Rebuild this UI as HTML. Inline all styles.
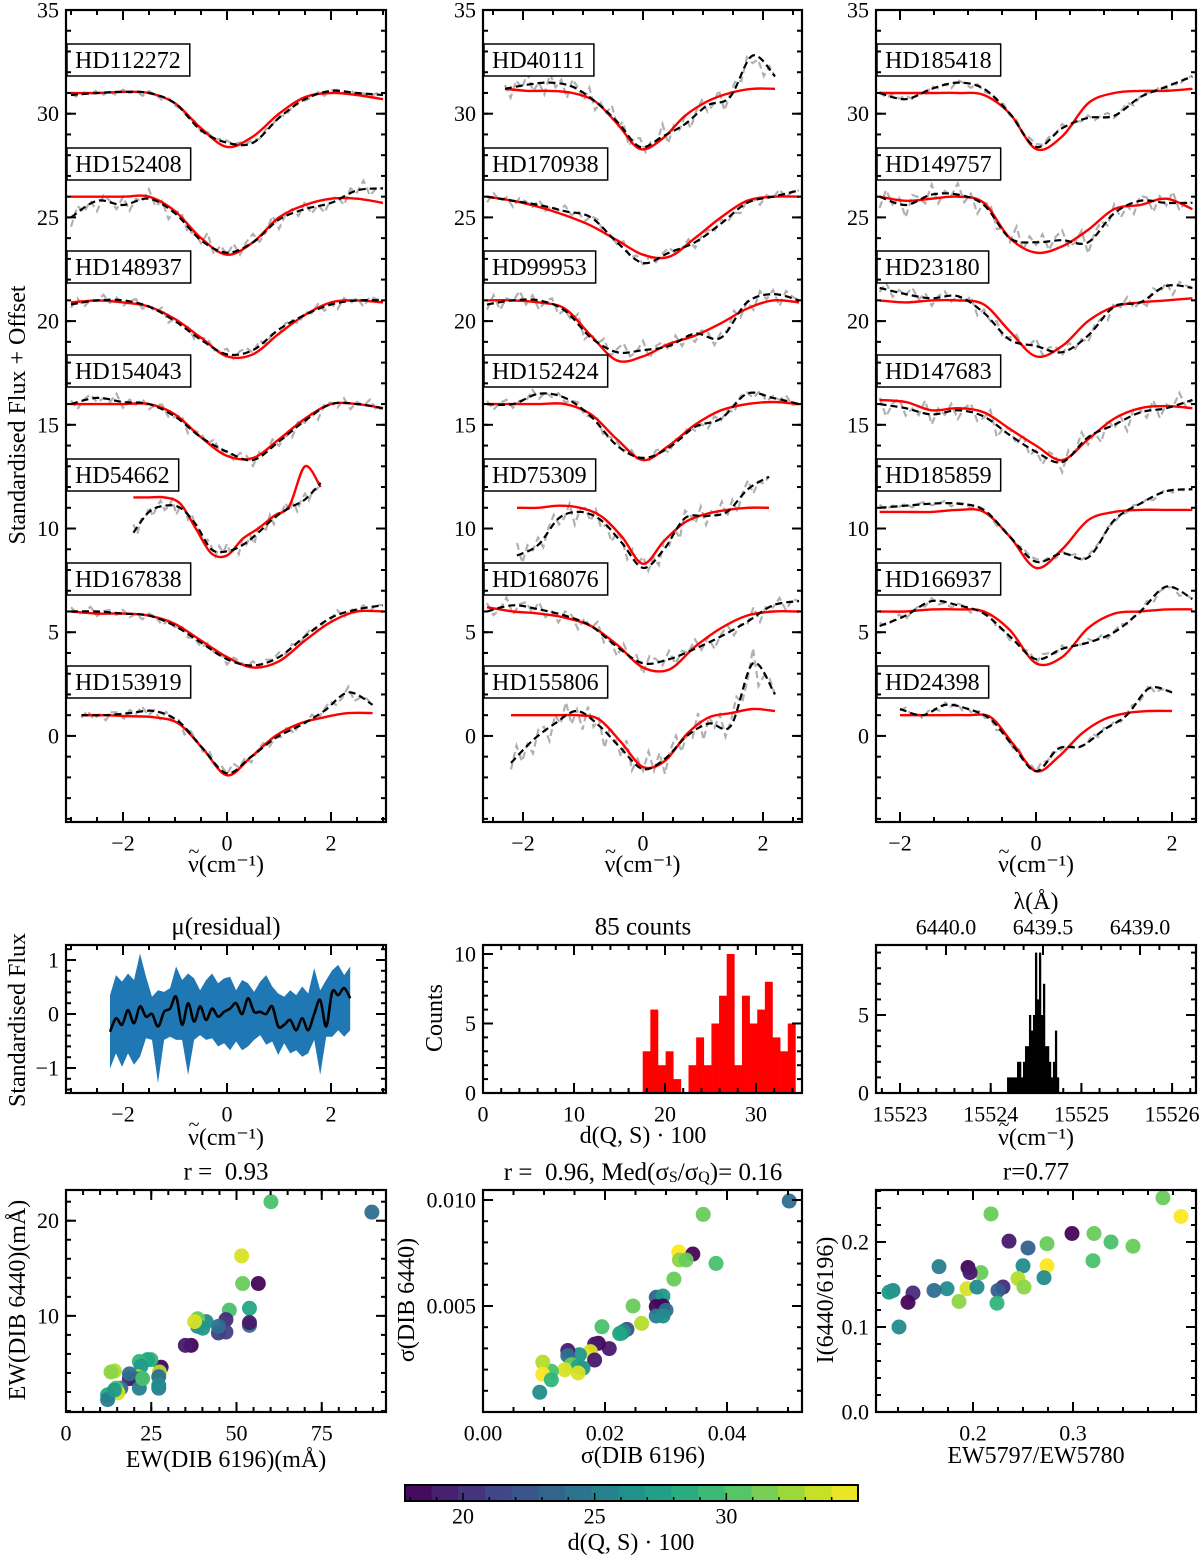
<!DOCTYPE html>
<html><head><meta charset="utf-8">
<style>
html,body{margin:0;padding:0;background:#fff;}
svg{display:block;font-family:"Liberation Serif","DejaVu Serif",serif;}
</style></head>
<body>
<svg id="fig" width="1200" height="1558" viewBox="0 0 1200 1558" xmlns="http://www.w3.org/2000/svg"></svg>
<script>
// ---------------- DATA ----------------
const p1Names=["HD112272","HD152408","HD148937","HD154043","HD54662","HD167838","HD153919"];
const p1Range=[[-3,3],[-3,3],[-3,3],[-3,3],[-1.8,1.8],[-3,3],[-2.8,2.8]];
const p1Red=[
[31,31,31.05,31,30.5,29.3,28.4,28.9,30,30.8,31,30.9,30.7],
[26,26,26,26,25.3,24,23.2,23.8,25,25.6,25.9,25.9,25.7],
[20.9,21,20.9,20.7,20.1,19.2,18.3,18.4,19.4,20.3,20.9,21,20.9],
[16,16,16,16,15.5,14.4,13.5,13.4,14.3,15.3,16,16,15.8],
[11.5,11.5,11.5,11.2,10,8.8,8.7,9.5,10,10.6,11.1,13,12],
[6,5.9,5.9,5.8,5.4,4.6,3.8,3.3,3.6,4.6,5.5,6,6],
[1,1,0.95,0.9,0.6,-0.6,-1.9,-1,0,0.6,0.9,1.1,1.1]];
const p1Black=[
[30.9,31,31.05,31,30.5,29.2,28.6,28.6,29.8,30.7,31.1,31,30.9],
[25,25.8,25.6,25.9,25.2,23.9,23.3,23.8,24.9,25.4,25.7,26.3,26.4],
[20.8,21,21,20.7,20,19.1,18.4,18.6,19.6,20.3,20.8,21,21],
[16,16.3,16.1,16,15.4,14.4,13.7,13.3,14.2,15.2,16,16,15.8],
[9.8,10.8,11.1,11,10.2,9,8.9,9.2,9.8,10.5,11,11.4,12.2],
[6,6,5.9,5.8,5.3,4.5,3.7,3.4,3.8,4.8,5.7,6.1,6.3],
[1,1,1.1,1.2,0.7,-0.6,-1.8,-1,-0.1,0.5,1.2,2.1,1.5]];
const p1Noise=[0.15,0.5,0.3,0.35,0.4,0.25,0.3];
const p2Names=["HD40111","HD170938","HD99953","HD152424","HD75309","HD168076","HD155806"];
const p2Range=[[-2.3,2.2],[-2.6,2.6],[-2.6,2.6],[-2.6,2.6],[-2.1,2.1],[-2.6,2.6],[-2.2,2.2]];
const p2Red=[
[31.2,31.1,31.1,31,30.6,29.5,28.3,28.8,29.9,30.6,31,31.2,31.2],
[26,25.8,25.5,25.1,24.6,23.9,23.2,23.1,24,25,25.8,26,26],
[21,21,20.9,20.6,19.3,18.1,18.3,18.9,19.3,19.9,20.6,21,20.9],
[16,16,16,16,15.5,14.3,13.3,14,15,15.7,16,16.1,16],
[11,11,11.1,11,10.6,9.6,8.3,9.4,10.3,10.7,10.9,11,11],
[6.2,6,5.9,5.7,5.3,4.4,3.3,3.2,4.3,5.2,5.8,6,6],
[1,1,1,1,0.8,-0.3,-1.5,-1.2,0.1,0.9,1.1,1.3,1.2]];
const p2Black=[
[31.2,31.4,31.5,31.3,30.6,29.6,28.4,28.9,29.5,30.4,30.8,32.8,31.8],
[26,25.8,25.6,25.3,25,23.8,22.8,23.3,23.8,24.7,25.7,26,26.3],
[20.8,21,21,20.5,19.2,18.5,18.6,18.8,19.4,19.2,20.9,21.3,21],
[16,16,16.5,16.3,15.4,14,13.4,13.9,14.9,15.3,16.5,16.3,16],
[8.7,9.2,10.5,10.8,10.4,9.3,8.1,9,10.5,10.6,10.8,11.9,12.5],
[6,6.3,6.1,5.8,5.3,4.3,3.5,3.7,4.2,4.8,5.5,6.3,6.5],
[-1.3,-0.2,0.6,1.2,0.5,-0.6,-1.6,-1.1,0,0.6,0.5,3.5,2]];
const p2Noise=[0.6,0.3,0.5,0.3,0.6,0.5,0.8];
const p3Names=["HD185418","HD149757","HD23180","HD147683","HD185859","HD166937","HD24398"];
const p3Range=[[-2.3,2.3],[-2.3,2.3],[-2.3,2.3],[-2.3,2.3],[-2.3,2.3],[-2.3,2.3],[-2,2]];
const p3Red=[
[31,31,31,31,30.9,30,28.3,28.9,30.5,31,31.1,31.1,31.2],
[26,25.8,25.9,26,25.7,24,23.3,23.6,24.4,25.4,25.6,25.9,25.4],
[21,20.9,21,21,20.8,19.5,18.3,18.8,20,20.7,20.9,21,21.1],
[16.2,16.1,15.7,15.8,15.6,14.8,14,13.3,14.3,15.3,15.8,15.9,15.8],
[10.8,10.8,10.8,10.9,10.8,9.6,8.1,9,10.4,10.8,10.9,10.9,10.9],
[6,6,6.1,6.1,6,5.1,3.5,3.8,5.2,5.9,6,6.1,6.1],
[1,1,1,1,0.9,-0.4,-1.7,-1,0.1,0.8,1.1,1.2,1.2]];
const p3Black=[
[31,30.7,31.2,31.5,31.2,30,28.4,29.3,29.8,29.9,30.8,31.3,31.8],
[26,25.6,26.1,26.1,25.6,24,23.8,23.9,23.8,25.2,25.8,25.7,25.7],
[21.6,21.3,21.1,21.2,20.4,19.1,18.8,18.5,19.3,20.7,20.9,21.7,21.6],
[16,15.8,15.5,15.7,15.4,14.5,13.7,13.2,14.4,15,15.6,15.8,16.2],
[11,11.1,11.2,11.2,10.9,9.6,8.4,8.8,8.6,10.4,11.2,11.8,11.9],
[5.3,5.8,6.5,6.3,5.9,4.8,3.7,4.2,4.5,5,6,7.2,6.6],
[1.3,1,1.5,1.3,0.8,-0.5,-1.7,-0.6,-0.5,0.3,1,2.3,2.1]];
const p3Noise=[0.2,0.6,0.4,0.6,0.15,0.2,0.2];
const jitter=[0.3,-0.8,0.5,-0.2,0.9,-0.6,0.1,-0.9,0.7,-0.3,0.4,-1,0.6,0.2,-0.5,0.8,-0.7,0.3,-0.1,0.9,-0.4,0.5,-0.9,0.2,0.7,-0.6,0.1,-0.3,1,-0.8,0.4,-0.2,0.6,-0.7,0.3,0.8,-0.5,-0.1,0.9,-0.9,0.2,0.5,-0.4,0.7,-0.6,0.1,-0.8,0.4];
const resX=[-2.25,2.37];
const resMean=[-0.33,-0.08,-0.2,0.07,-0.17,0.14,-0.05,0,-0.23,0.04,0.1,0.32,-0.2,0.2,-0.14,0.14,-0.11,0.1,-0.05,0.04,0.1,0.2,0,0.29,0.04,0.04,0,0.14,-0.23,-0.2,-0.11,-0.3,-0.08,-0.3,0,0.26,-0.23,0.41,0.35,0.48,0.29];
const resUpper=[0.35,0.72,0.6,0.75,0.63,1.12,0.69,0.32,0.44,0.41,0.48,0.88,0.63,0.75,0.66,0.44,0.63,0.75,0.57,0.66,0.69,0.44,0.63,0.57,0.41,0.6,0.72,0.51,0.38,0.32,0.44,0.35,0.51,0.38,0.85,0.44,0.63,0.81,0.91,0.72,0.88];
const resLower=[-1.01,-0.73,-0.98,-0.73,-0.94,-0.79,-0.45,-0.48,-1.28,-0.48,-0.42,-0.48,-0.48,-1.13,-0.48,-0.39,-0.48,-0.45,-0.6,-0.54,-0.67,-0.51,-0.67,-0.6,-0.48,-0.39,-0.57,-0.51,-0.76,-0.54,-0.73,-0.67,-0.79,-0.73,-0.48,-1.13,-0.42,-0.42,-0.3,-0.42,-0.3];
const hist5Start=17.55, hist5Width=0.839;
const hist5Counts=[3,6,2,3,1,0,2,4,2,5,7,10,2,7,5,6,8,4,3,5];
const hist6Start=15524.18, hist6Width=0.022;
const hist6Counts=[1,1,1,1,1,2,2,1,2,3,3,5,4,5,9,6,9,5,7,3,3,2,1,2,4,1];
const s7x=[60.1,89.7,51.5,51.8,56.4,53.8,53.8,53.8,47.9,46.9,46.9,44.7,44.7,41.1,38.6,38.6,40.1,37.7,36.7,35.0,27.9,27.4,27.2,27.2,27.2,24.9,23.9,21.5,22.0,21.0,20.5,22.0,18.6,18.6,21.5,22.5,14.2,13.2,16.1,14.7,15.2,12.2,12.2,14.2];
const s7y=[22.0,20.9,16.3,13.4,13.4,10.8,9.0,9.3,10.6,9.6,8.3,8.2,8.9,9.4,9.7,8.9,8.7,9.4,6.9,6.9,4.6,4.1,3.6,2.4,2.7,5.4,5.4,5.2,4.7,3.6,3.4,3.4,3.4,3.9,2.4,3.4,4.2,4.1,2.4,2.4,1.9,1.7,1.2,2.2];
const s7c=[30,24,34,31,18,28,24,19,30,20,21,21,24,26,31,26,27,34,18,19,18,33,24,25,26,29,28,29,27,33,28,25,19,24,25,30,33,32,24,30,34,28,25,27];
const s8x=[0.0502,0.0361,0.0321,0.0344,0.0322,0.0333,0.0382,0.0313,0.0284,0.0295,0.0284,0.0295,0.0300,0.0284,0.0295,0.0246,0.0260,0.0236,0.0227,0.0230,0.0224,0.0195,0.0207,0.0189,0.0183,0.0176,0.0183,0.0158,0.0139,0.0139,0.0145,0.0156,0.0164,0.0156,0.0134,0.0112,0.0098,0.0098,0.0112,0.0093];
const s8y=[0.00995,0.00932,0.00755,0.00745,0.00717,0.00717,0.00701,0.00627,0.00541,0.00547,0.00497,0.00500,0.00480,0.00453,0.00453,0.00500,0.00418,0.00390,0.00371,0.00380,0.00370,0.00402,0.00299,0.00324,0.00320,0.00285,0.00245,0.00270,0.00290,0.00266,0.00223,0.00215,0.00207,0.00184,0.00199,0.00192,0.00235,0.00178,0.00152,0.00093];
const s8c=[24,31,35,18,32,31,30,31,23,27,18,18,24,25,26,31,33,22,29,26,28,30,19,18,19,34,19,27,19,24,31,28,27,34,34,30,33,35,29,26];
const s9x=[0.390,0.408,0.218,0.299,0.321,0.338,0.360,0.320,0.274,0.236,0.255,0.274,0.250,0.271,0.245,0.251,0.230,0.225,0.224,0.208,0.195,0.197,0.194,0.204,0.186,0.174,0.161,0.166,0.140,0.135,0.120,0.116,0.126];
const s9y=[0.252,0.230,0.233,0.210,0.210,0.200,0.195,0.178,0.198,0.201,0.193,0.172,0.172,0.158,0.157,0.147,0.147,0.143,0.128,0.164,0.170,0.164,0.145,0.147,0.130,0.145,0.143,0.171,0.140,0.129,0.143,0.141,0.100];
const s9c=[31,35,31,18,31,30,31,30,31,19,23,35,26,26,33,32,20,23,29,31,18,19,34,26,32,26,24,25,20,18,26,27,26];
const cbarTicks=[20,25,30];

// ---------------- HELPERS ----------------
const NS='http://www.w3.org/2000/svg';
const svg=document.getElementById('fig');
const TICK=22, TITLE=25, LABEL=24;
function el(tag,attrs,parent){const e=document.createElementNS(NS,tag);for(const k in attrs)e.setAttribute(k,attrs[k]);(parent||svg).appendChild(e);return e;}
function txt(s,x,y,size,anchor,parent,extra){const t=el('text',Object.assign({x:x,y:y,'font-size':size,'text-anchor':anchor||'middle','dominant-baseline':'central',fill:'#000'},extra||{}),parent);t.textContent=s;return t;}
function nuLabel(cx,cy,parent){
  const g=el('g',{},parent);
  
  
  const t=txt('\u03BD(cm\u207B\u00B9)',cx,cy,LABEL,'middle',g);
  const w=t.getComputedTextLength?t.getComputedTextLength():80;
  const x0=cx-w/2+6;
  txt('~',x0,cy-13,20,'middle',g);
  return g;
}
function fmtNum(v,d){const s=Math.abs(v).toFixed(d);return (v<-1e-12?'\u2212':'')+s;}
const VIR=['#440154','#482475','#414487','#355f8d','#2a788e','#21918c','#22a884','#44bf70','#7ad151','#bddf26','#fde725'];
function hex(h){return [parseInt(h.substr(1,2),16),parseInt(h.substr(3,2),16),parseInt(h.substr(5,2),16)];}
function viridis(t){t=Math.max(0,Math.min(1,t));const f=t*10,i=Math.min(9,Math.floor(f)),r=f-i;const a=hex(VIR[i]),b=hex(VIR[i+1]);return 'rgb('+a.map((v,k)=>Math.round(v+(b[k]-v)*r)).join(',')+')';}
const CMIN=17.8,CMAX=35;
function smooth(pts){let d='M'+pts[0][0].toFixed(1)+','+pts[0][1].toFixed(1);for(let i=0;i<pts.length-1;i++){const p0=pts[i-1]||pts[i],p1=pts[i],p2=pts[i+1],p3=pts[i+2]||p2;const c1=[p1[0]+(p2[0]-p0[0])/6,p1[1]+(p2[1]-p0[1])/6],c2=[p2[0]-(p3[0]-p1[0])/6,p2[1]-(p3[1]-p1[1])/6];d+='C'+c1[0].toFixed(1)+','+c1[1].toFixed(1)+' '+c2[0].toFixed(1)+','+c2[1].toFixed(1)+' '+p2[0].toFixed(1)+','+p2[1].toFixed(1);}return d;}
function ticksRange(a,b,step){const out=[];const s=Math.ceil(a/step-1e-9);for(let k=s;k*step<=b+1e-9;k++)out.push(+(k*step).toFixed(10));return out;}

function makeAxes(o,name){
  const g=el('g',{});
  
  
  o.sx=v=>o.L+(v-o.xmin)/(o.xmax-o.xmin)*(o.R-o.L);
  o.sy=v=>o.B-(v-o.ymin)/(o.ymax-o.ymin)*(o.B-o.T);
  o.g=g;
  return o;
}
function finishAxes(o){
  const g=o.g;
  const tg=el('g',{stroke:'#000','stroke-width':2},g);
  ticksRange(o.xmin,o.xmax,o.xminor).forEach(v=>{const x=o.sx(v);el('line',{x1:x,x2:x,y1:o.B,y2:o.B-5},tg);if(!o.noTopX)el('line',{x1:x,x2:x,y1:o.T,y2:o.T+5},tg);});
  o.xmajor.forEach(v=>{const x=o.sx(v);el('line',{x1:x,x2:x,y1:o.B,y2:o.B-10},tg);if(!o.noTopX)el('line',{x1:x,x2:x,y1:o.T,y2:o.T+10},tg);});
  ticksRange(o.ymin,o.ymax,o.yminor).forEach(v=>{const y=o.sy(v);el('line',{x1:o.L,x2:o.L+5,y1:y,y2:y},tg);el('line',{x1:o.R,x2:o.R-5,y1:y,y2:y},tg);});
  o.ymajor.forEach(v=>{const y=o.sy(v);el('line',{x1:o.L,x2:o.L+10,y1:y,y2:y},tg);el('line',{x1:o.R,x2:o.R-10,y1:y,y2:y},tg);});
  const fr=el('rect',{x:o.L,y:o.T,width:o.R-o.L,height:o.B-o.T,fill:'none',stroke:'#000','stroke-width':2.2},g);
  
  
  o.xmajor.forEach(v=>{const t=txt(fmtNum(v,o.xdec||0),o.sx(v),o.B+21,TICK,'middle',g);});
  o.ymajor.forEach(v=>{const t=txt(fmtNum(v,o.ydec||0),o.L-7,o.sy(v),TICK,'end',g);});
}

// ---------------- TOP SPECTRA PANELS ----------------
const topBoxTop=[44,148,251,355,459,563,666];
function spectraPanel(L,R,xmin,xmax,names,ranges,reds,blacks,noise,pname){
  const o=makeAxes({L:L,R:R,T:10,B:822,xmin:xmin,xmax:xmax,ymin:-4.15,ymax:35,xmajor:[-2,0,2],xminor:0.5,ymajor:[0,5,10,15,20,25,30,35],yminor:1},pname);
  const clip=el('clipPath',{id:'clip-'+pname},o.g);el('rect',{x:L,y:10,width:R-L,height:812},clip);
  const dg=el('g',{'clip-path':'url(#clip-'+pname+')'},o.g);
  names.forEach((nm,i)=>{
    const [a,b]=ranges[i];const n=reds[i].length;const xs=reds[i].map((_,k)=>a+(b-a)*k/(n-1));
    const bl=blacks[i];const gp=[];let j=i*7;
    for(let k=0;k<n-1;k++){for(let s=0;s<4;s++){const x=xs[k]+(xs[k+1]-xs[k])*s/4;const y=bl[k]+(bl[k+1]-bl[k])*s/4+noise[i]*jitter[(j++)%jitter.length];gp.push([o.sx(x),o.sy(y)]);}}
    gp.push([o.sx(xs[n-1]),o.sy(bl[n-1])]);
    const gl=el('path',{d:'M'+gp.map(p=>p[0].toFixed(1)+','+p[1].toFixed(1)).join('L'),fill:'none',stroke:'#b0b0b0','stroke-width':2.2,'stroke-dasharray':'7,4'},dg);
    
    
    const rl=el('path',{d:smooth(xs.map((x,k)=>[o.sx(x),o.sy(reds[i][k])])),fill:'none',stroke:'#ff0000','stroke-width':2.4},dg);
    
    
    const kl=el('path',{d:smooth(xs.map((x,k)=>[o.sx(x),o.sy(bl[k])])),fill:'none',stroke:'#000','stroke-width':2.2,'stroke-dasharray':'7,4'},dg);
    
    
    const bx=el('g',{},o.g);
    
    
    const r=el('rect',{x:L+1,y:topBoxTop[i],width:10,height:32,fill:'#fff',stroke:'#000','stroke-width':1.5},bx);
    const t=txt(nm,L+9,topBoxTop[i]+17,LABEL,'start',bx);
    r.setAttribute('width',t.getComputedTextLength()+17);
  });
  finishAxes(o);
  nuLabel((L+R)/2,865,o.g);
}
spectraPanel(66,386,-161/52,159/52,p1Names,p1Range,p1Red,p1Black,p1Noise,'spectra-panel-1');
spectraPanel(483,802,-160/60,159/60,p2Names,p2Range,p2Red,p2Black,p2Noise,'spectra-panel-2');
spectraPanel(876,1196,-160/68,160/68,p3Names,p3Range,p3Red,p3Black,p3Noise,'spectra-panel-3');
{const t=txt('Standardised Flux + Offset',18,415,LABEL,'middle',svg,{transform:'rotate(-90 18 415)'});}

// ---------------- PANEL 4 ----------------
{
  const o=makeAxes({L:66,R:386,T:945,B:1093,xmin:-161/52,xmax:159/52,ymin:-79/54,ymax:69/54,xmajor:[-2,0,2],xminor:0.5,ymajor:[-1,0,1],yminor:0.2},'residual-panel');
  const n=resMean.length;const xs=resMean.map((_,k)=>resX[0]+(resX[1]-resX[0])*k/(n-1));
  const up=xs.map((x,k)=>o.sx(x).toFixed(1)+','+o.sy(resUpper[k]).toFixed(1));
  const lo=xs.map((x,k)=>o.sx(x).toFixed(1)+','+o.sy(resLower[k]).toFixed(1)).reverse();
  const band=el('polygon',{points:up.concat(lo).join(' '),fill:'#1f77b4'},o.g);
  
  
  const ml=el('path',{d:smooth(xs.map((x,k)=>[o.sx(x),o.sy(resMean[k])])),fill:'none',stroke:'#000','stroke-width':2.6},o.g);
  
  
  finishAxes(o);
  const t1=txt('\u03BC(residual)',226,927,TITLE,'middle',o.g);
  nuLabel(226,1138,o.g);
  const t3=txt('Standardised Flux',18,1020,LABEL,'middle',o.g,{transform:'rotate(-90 18 1020)'});
}
// ---------------- PANEL 5 ----------------
{
  const o=makeAxes({L:483,R:802,T:945,B:1093,xmin:0,xmax:319/9.1,ymin:0,ymax:148/13.9,xmajor:[0,10,20,30],xminor:2,ymajor:[0,5,10],yminor:1},'distance-histogram');
  hist5Counts.forEach((c,i)=>{if(!c)return;const x0=hist5Start+i*hist5Width;const r=el('rect',{x:o.sx(x0),y:o.sy(c),width:o.sx(x0+hist5Width)-o.sx(x0)+0.3,height:o.sy(0)-o.sy(c),fill:'#ff0000'},o.g);
    
    });
  finishAxes(o);
  const t1=txt('85 counts',643,927,TITLE,'middle',o.g);
  const t2=txt('d(Q, S) \u00B7 100',643,1136,LABEL,'middle',o.g);
  const t3=txt('Counts',435,1018,LABEL,'middle',o.g,{transform:'rotate(-90 435 1018)'});
}
// ---------------- PANEL 6 ----------------
{
  const o=makeAxes({L:876,R:1196,T:945,B:1093,xmin:15523-24/90.7,xmax:15523+296/90.7,ymin:0,ymax:148/15.6,xmajor:[15523,15524,15525,15526],xminor:0.2,ymajor:[0,5],yminor:1,noTopX:true},'center-histogram');
  hist6Counts.forEach((c,i)=>{if(!c)return;const x0=hist6Start+i*hist6Width;const r=el('rect',{x:o.sx(x0),y:o.sy(c),width:o.sx(x0+hist6Width)-o.sx(x0)+0.3,height:o.sy(0)-o.sy(c),fill:'#000'},o.g);
    
    });
  finishAxes(o);
  const lx=v=>946+(6440.0-v)*194;
  const tg=el('g',{stroke:'#000','stroke-width':2},o.g);
  for(let k=0;k<=16;k++){const v=6440.1-k*0.1;const x=lx(v);if(x<o.L||x>o.R)continue;el('line',{x1:x,x2:x,y1:o.T,y2:o.T+5},tg);}
  [6440.0,6439.5,6439.0].forEach(v=>{const x=lx(v);el('line',{x1:x,x2:x,y1:o.T,y2:o.T+10},tg);const t=txt(v.toFixed(1),x,927,TICK,'middle',o.g);});
  const t1=txt('\u03BB(\u00C5)',1036,902,LABEL,'middle',o.g);
  nuLabel(1036,1138,o.g);
}
// ---------------- SCATTERS ----------------
function scatter(o,xs,ys,cs,name){
  xs.forEach((x,i)=>{const c=el('circle',{cx:o.sx(x),cy:o.sy(ys[i]),r:7.5,fill:viridis((cs[i]-CMIN)/(CMAX-CMIN)),'fill-opacity':0.95},o.g);
    
    });
  finishAxes(o);
}
{
  const o=makeAxes({L:66,R:386,T:1190,B:1412,xmin:0,xmax:320/3.41,ymin:-1/9.6,ymax:223/9.6,xmajor:[0,25,50,75],xminor:5,ymajor:[10,20],yminor:2},'ew-scatter');
  scatter(o,s7x,s7y,s7c,'ew');
  const t1=txt('r =\u00A0\u00A00.93',226,1172,TITLE,'middle',o.g);
  const t2=txt('EW(DIB 6196)(m\u00C5)',226,1460,LABEL,'middle',o.g);
  const t3=txt('EW(DIB 6440)(m\u00C5)',18,1300,LABEL,'middle',o.g,{transform:'rotate(-90 18 1300)'});
}
{
  const o=makeAxes({L:483,R:802,T:1190,B:1412,xmin:0,xmax:319/6100,ymin:0,ymax:222/21200,xmajor:[0,0.02,0.04],xminor:0.005,ymajor:[0.005,0.010],yminor:0.001,xdec:2,ydec:3},'sigma-scatter');
  scatter(o,s8x,s8y,s8c,'sigma');
  const t1b=el('text',{x:643,y:1172,'font-size':TITLE,'text-anchor':'middle','dominant-baseline':'central'},o.g);
  
  
  t1b.innerHTML='<tspan>r =\u00A0\u00A00.96, Med(\u03C3</tspan><tspan font-size="16" dy="5">S</tspan><tspan dy="-5">/\u03C3</tspan><tspan font-size="16" dy="5">Q</tspan><tspan dy="-5">)= 0.16</tspan>';
  const t2=txt('\u03C3(DIB 6196)',643,1456,LABEL,'middle',o.g);
  const t3=txt('\u03C3(DIB 6440)',407,1300,LABEL,'middle',o.g,{transform:'rotate(-90 407 1300)'});
}
{
  const o=makeAxes({L:876,R:1196,T:1190,B:1412,xmin:0.2-97/1000,xmax:0.2+223/1000,ymin:0,ymax:222/850,xmajor:[0.2,0.3],xminor:0.025,ymajor:[0,0.1,0.2],yminor:0.02,xdec:1,ydec:1},'intensity-scatter');
  scatter(o,s9x,s9y,s9c,'intensity');
  const t1=txt('r=0.77',1036,1172,TITLE,'middle',o.g);
  const t2=txt('EW5797/EW5780',1036,1456,LABEL,'middle',o.g);
  const t3=txt('I(6440/6196)',826,1300,LABEL,'middle',o.g,{transform:'rotate(-90 826 1300)'});
}
// ---------------- COLORBAR ----------------
{
  const g=el('g',{});
  
  
  const L=405,R=858,T=1485,B=1501;const sx=v=>L+(v-CMIN)/(CMAX-CMIN)*(R-L);
  const nSeg=17;
  for(let i=0;i<nSeg;i++){const v0=CMIN+(CMAX-CMIN)*i/nSeg,v1=CMIN+(CMAX-CMIN)*(i+1)/nSeg;el('rect',{x:sx(v0),y:T,width:sx(v1)-sx(v0)+0.5,height:B-T,fill:viridis((i+0.5)/nSeg)},g);}
  const tg=el('g',{stroke:'#000','stroke-width':1.5},g);
  for(let v=18;v<=35;v++){const x=sx(v);el('line',{x1:x,x2:x,y1:B,y2:B-(v%5===0?8:4)},tg);}
  el('rect',{x:L,y:T,width:R-L,height:B-T,fill:'none',stroke:'#000','stroke-width':2},g);
  cbarTicks.forEach(v=>{const t=txt(String(v),sx(v),1516,TICK,'middle',g);});
  const t=txt('d(Q, S) \u00B7 100',631,1543,LABEL,'middle',g);
}
</script>
</body></html>
